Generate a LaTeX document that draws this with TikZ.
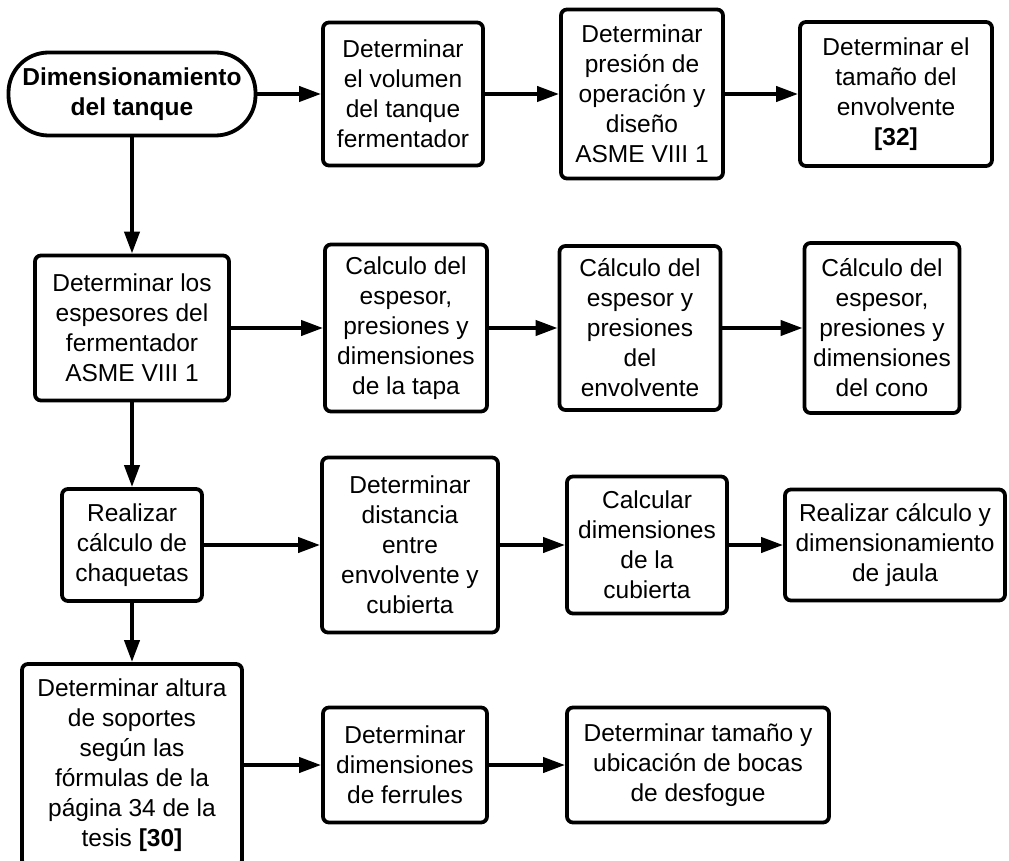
\documentclass[tikz,border=0pt]{standalone}
\usepackage{fontspec}
\setmainfont{Liberation Sans}
\usetikzlibrary{arrows.meta}
\tikzset{
  box/.style={draw, line width=3.8pt, rounded corners=6pt, align=center, inner sep=0pt, fill=white},
  term/.style={box, rounded corners=40pt, font=\fontsize{24.5pt}{30pt}\selectfont\bfseries},
  arr/.style={-{Triangle[length=22pt,width=15pt]}, line width=4pt}
}
\begin{document}
\begin{tikzpicture}[x=1pt,y=-1pt,font=\fontsize{24.5pt}{30pt}\selectfont]
\useasboundingbox (0,0) rectangle (1009,861);
% row 1
\node[term, minimum width=247pt, minimum height=83pt] (start) at (132,94) {Dimensionamiento\\del tanque};
\node[box, minimum width=160pt, minimum height=143pt] (b1) at (403,94) {Determinar\\el volumen\\del tanque\\fermentador};
\node[box, minimum width=162pt, minimum height=169pt] (b2) at (642,94) {Determinar\\presión de\\operación y\\diseño\\ASME VIII 1};
\node[box, minimum width=192pt, minimum height=144pt] (b3) at (896,94) {Determinar el\\tamaño del\\envolvente\\\textbf{[32]}};
% row 2
\node[box, minimum width=194pt, minimum height=145pt] (b5) at (132,328) {Determinar los\\espesores del\\fermentador\\ASME VIII 1};
\node[box, minimum width=162pt, minimum height=167pt] (b6) at (406,328) {Calculo del\\espesor,\\presiones y\\dimensiones\\de la tapa};
\node[box, minimum width=161pt, minimum height=164pt] (b7) at (640,328) {Cálculo del\\espesor y\\presiones\\del\\envolvente};
\node[box, minimum width=155pt, minimum height=170pt] (b8) at (882,328) {Cálculo del\\espesor,\\presiones y\\dimensiones\\del cono};
% row 3
\node[box, minimum width=140pt, minimum height=112pt] (b9) at (132,545) {Realizar\\cálculo de\\chaquetas};
\node[box, minimum width=176pt, minimum height=175pt] (b10) at (410,545) {Determinar\\distancia\\entre\\envolvente y\\cubierta};
\node[box, minimum width=160pt, minimum height=137pt] (b11) at (647,545) {Calcular\\dimensiones\\de la\\cubierta};
\node[box, minimum width=220pt, minimum height=111pt] (b12) at (895,545) {Realizar cálculo y\\dimensionamiento\\de jaula};
% row 4
\node[box, minimum width=220pt, minimum height=202pt] (b13) at (132,765) {Determinar altura\\de soportes\\según las\\fórmulas de la\\página 34 de la\\tesis \textbf{[30]}};
\node[box, minimum width=164pt, minimum height=115pt] (b14) at (405,765) {Determinar\\dimensiones\\de ferrules};
\node[box, minimum width=262pt, minimum height=115pt] (b15) at (698,765) {Determinar tamaño y\\ubicación de bocas\\de desfogue};
% connectors
\draw[arr] (start) -- (b1);
\draw[arr] (b1) -- (b2);
\draw[arr] (b2) -- (b3);
\draw[arr] (start) -- (b5);
\draw[arr] (b5) -- (b6);
\draw[arr] (b6) -- (b7);
\draw[arr] (b7) -- (b8);
\draw[arr] (b5) -- (b9);
\draw[arr] (b9) -- (b10);
\draw[arr] (b10) -- (b11);
\draw[arr] (b11) -- (b12);
\draw[arr] (b9) -- (b13);
\draw[arr] (b13) -- (b14);
\draw[arr] (b14) -- (b15);
\end{tikzpicture}
\end{document}
